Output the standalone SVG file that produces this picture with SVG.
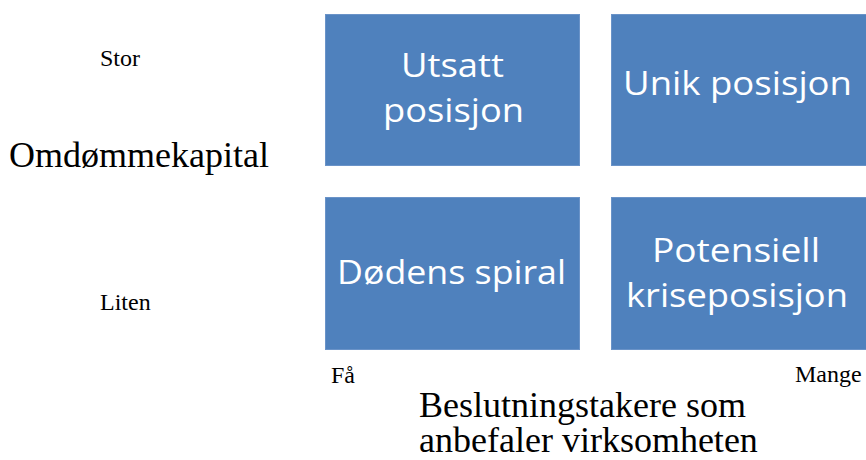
<svg xmlns="http://www.w3.org/2000/svg" width="866" height="460" viewBox="0 0 866 460">
<style>
.box{fill:#4F81BD;stroke:#6A93C8;stroke-width:1}
.bt{font-family:"Open Sans","Liberation Sans",sans-serif;font-size:32px;fill:#FFFFFF}
.sm{font-family:"Liberation Serif","Times New Roman",serif;font-size:24px;fill:#000000}
.lg{font-family:"Liberation Serif","Times New Roman",serif;font-size:36px;fill:#000000}
</style>
<rect width="866" height="460" fill="#FFFFFF"/>
<g id="utsatt-posisjon">
<rect class="box" x="325.5" y="14.5" width="254" height="151"/>
<text class="bt" x="401" y="76.5" textLength="103" lengthAdjust="spacingAndGlyphs">Utsatt</text>
<text class="bt" x="383" y="121.5" textLength="141" lengthAdjust="spacingAndGlyphs">posisjon</text>
</g>
<g id="unik-posisjon">
<rect class="box" x="611.5" y="14.5" width="256" height="151"/>
<text class="bt" x="623" y="95" textLength="229" lengthAdjust="spacingAndGlyphs">Unik posisjon</text>
</g>
<g id="dodens-spiral">
<rect class="box" x="325.5" y="197.5" width="254" height="152"/>
<text class="bt" x="337" y="284" textLength="229" lengthAdjust="spacingAndGlyphs">Dødens spiral</text>
</g>
<g id="potensiell-kriseposisjon">
<rect class="box" x="611.5" y="197.5" width="256" height="152"/>
<text class="bt" x="652" y="261.5" textLength="168" lengthAdjust="spacingAndGlyphs">Potensiell</text>
<text class="bt" x="626" y="306.5" textLength="222" lengthAdjust="spacingAndGlyphs">kriseposisjon</text>
</g>
<g id="axis-labels">
<text class="sm" x="100" y="66">Stor</text>
<text class="lg" x="9" y="166.5">Omdømmekapital</text>
<text class="sm" x="100" y="310">Liten</text>
<text class="sm" x="331" y="383">Få</text>
<text class="sm" x="795" y="382">Mange</text>
<text class="lg" x="419" y="416.5">Beslutningstakere som</text>
<text class="lg" x="419" y="451.5">anbefaler virksomheten</text>
</g>
<g id="connectors"/>
</svg>
